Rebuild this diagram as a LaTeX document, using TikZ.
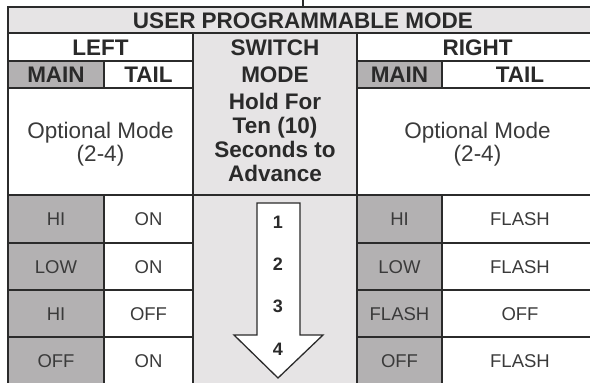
\documentclass[tikz,border=0pt]{standalone}
\usepackage{fontspec}
\setmainfont{Liberation Sans}
\definecolor{hdr}{HTML}{E6E4E5}
\definecolor{maing}{HTML}{B3B1B2}
\definecolor{ln}{HTML}{2B2B2B}
\definecolor{txb}{HTML}{2A2A2A}
\definecolor{txr}{HTML}{3A3A3A}
\begin{document}
\begin{tikzpicture}[x=1pt,y=-1pt,
  grid/.style={draw=ln,line width=1.3pt},
  bh/.style={anchor=base,inner sep=0pt,text=txb,font=\fontsize{22.5}{24}\selectfont\bfseries},
  rg/.style={anchor=base,inner sep=0pt,text=txr,font=\fontsize{22.5}{24}\selectfont},
  dt/.style={anchor=base,inner sep=0pt,text=txr,font=\fontsize{18.5}{20}\selectfont},
  num/.style={anchor=base,inner sep=0pt,text=txb,font=\fontsize{18}{20}\selectfont\bfseries}]
\useasboundingbox (0,0) rectangle (590,383);
\clip (0,0) rectangle (590,383);
% fills
\fill[hdr] (8,7) rectangle (598,33);
\fill[hdr] (193,33) rectangle (357,392);
\fill[maing] (8,61) rectangle (104,88);
\fill[maing] (357,61) rectangle (442,88);
\fill[maing] (8,195) rectangle (104,392);
\fill[maing] (357,195) rectangle (442,392);
% horizontal lines
\draw[grid] (8,7) -- (598,7);
\draw[grid] (8,33) -- (598,33);
\draw[grid] (8,195) -- (598,195);
\foreach \yy in {61,88,243,290,337,384}{
  \draw[grid] (8,\yy) -- (193,\yy);
  \draw[grid] (357,\yy) -- (598,\yy);
}
% vertical lines
\draw[grid] (8,6.35) -- (8,392);
\draw[grid] (193,33) -- (193,392);
\draw[grid] (357,33) -- (357,392);
\draw[grid] (104,61) -- (104,88);
\draw[grid] (442,61) -- (442,88);
\draw[grid] (104,195) -- (104,392);
\draw[grid] (442,195) -- (442,392);
\draw[draw=ln,line width=1.6pt] (303,0) -- (303,7);
% arrow
\draw[fill=white,draw=ln,line width=1.3pt,line join=miter]
  (257,203) -- (300,203) -- (300,335) -- (323,335) -- (278,378) -- (234,335) -- (257,335) -- cycle;
% header texts
\node[bh] (title) at (303,28) {USER PROGRAMMABLE MODE};
\node[bh] (left) at (100.5,55) {LEFT};
\node[bh] (switch) at (275,55) {SWITCH};
\node[bh] (right) at (477.5,55) {RIGHT};
\node[bh] (lmain) at (56,82.5) {MAIN};
\node[bh] (ltail) at (148.5,82.5) {TAIL};
\node[bh] (mode) at (275,82.5) {MODE};
\node[bh] (rmain) at (399.5,82.5) {MAIN};
\node[bh] (rtail) at (520,82.5) {TAIL};
% optional mode
\node[rg] (lopt1) at (100.5,138) {Optional Mode};
\node[rg] (lopt2) at (100.5,161) {(2-4)};
\node[rg] (ropt1) at (477.5,138) {Optional Mode};
\node[rg] (ropt2) at (477.5,161) {(2-4)};
% switch text
\node[bh] (hold) at (275,109) {Hold For};
\node[bh] (ten) at (275,133) {Ten (10)};
\node[bh] (secs) at (275,157) {Seconds to};
\node[bh] (adv) at (275,181) {Advance};
% numbers
\node[num] (n1) at (278,228.5) {1};
\node[num] (n2) at (278,270.5) {2};
\node[num] (n3) at (278,312.5) {3};
\node[num] (n4) at (278,355.5) {4};
% data rows
\node[dt] (a1) at (56,225.6) {HI};
\node[dt] (b1) at (148.5,225.6) {ON};
\node[dt] (c1) at (399.5,225.6) {HI};
\node[dt] (d1) at (520,225.6) {FLASH};
\node[dt] (a2) at (56,273.1) {LOW};
\node[dt] (b2) at (148.5,273.1) {ON};
\node[dt] (c2) at (399.5,273.1) {LOW};
\node[dt] (d2) at (520,273.1) {FLASH};
\node[dt] (a3) at (56,320.1) {HI};
\node[dt] (b3) at (148.5,320.1) {OFF};
\node[dt] (c3) at (399.5,320.1) {FLASH};
\node[dt] (d3) at (520,320.1) {OFF};
\node[dt] (a4) at (56,367.1) {OFF};
\node[dt] (b4) at (148.5,367.1) {ON};
\node[dt] (c4) at (399.5,367.1) {OFF};
\node[dt] (d4) at (520,367.1) {FLASH};
\end{tikzpicture}
\end{document}
